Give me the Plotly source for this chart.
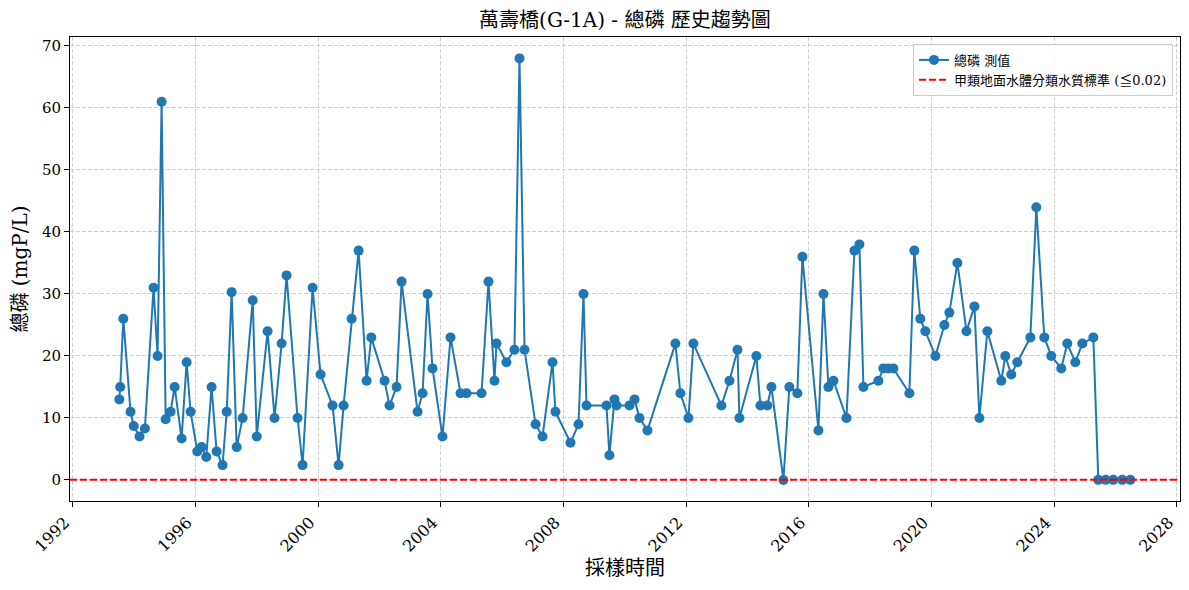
import plotly.graph_objects as go

# sampling dates
dates = [
    "1993-07-10", "1993-07-20", "1993-08-26", "1993-11-20", "1993-12-28",
    "1994-03-07", "1994-05-10", "1994-08-21", "1994-10-08", "1994-11-25",
    "1995-01-12", "1995-03-12", "1995-04-29", "1995-07-21", "1995-09-19",
    "1995-11-05", "1996-01-24", "1996-03-15", "1996-05-10", "1996-07-12",
    "1996-09-10", "1996-11-20", "1997-01-08", "1997-03-08", "1997-05-07",
    "1997-07-17", "1997-11-14", "1998-01-01", "1998-05-10", "1998-08-01",
    "1998-10-24", "1998-12-22", "1999-05-02", "1999-07-01", "1999-10-28",
    "2000-01-31", "2000-06-22", "2000-09-02", "2000-10-31", "2001-02-04",
    "2001-04-28", "2001-08-01", "2001-09-26", "2002-03-03", "2002-05-01",
    "2002-07-24", "2002-09-22", "2003-03-31", "2003-05-30", "2003-07-28",
    "2003-09-25", "2004-01-22", "2004-04-27", "2004-08-24", "2004-11-03",
    "2005-05-01", "2005-07-23", "2005-10-02", "2005-10-26", "2006-02-22",
    "2006-05-28", "2006-07-27", "2006-09-25", "2007-02-03", "2007-04-27",
    "2007-08-24", "2007-09-28", "2008-03-25", "2008-06-29", "2008-08-27",
    "2008-10-02", "2009-05-28", "2009-07-02", "2009-08-31", "2009-09-24",
    "2010-02-26", "2010-04-27", "2010-06-25", "2010-09-28", "2011-08-27",
    "2011-10-25", "2012-01-29", "2012-03-28", "2013-02-25", "2013-06-01",
    "2013-09-04", "2013-09-27", "2014-04-17", "2014-06-04", "2014-08-26",
    "2014-10-13", "2015-03-05", "2015-05-15", "2015-08-18", "2015-10-17",
    "2016-04-25", "2016-06-24", "2016-08-22", "2016-10-21", "2017-03-25",
    "2017-06-28", "2017-08-26", "2017-10-13", "2018-04-09", "2018-06-07",
    "2018-08-06", "2018-10-04", "2019-04-13", "2019-06-11", "2019-08-21",
    "2019-10-20", "2020-02-17", "2020-06-03", "2020-08-01", "2020-11-05",
    "2021-02-21", "2021-05-27", "2021-07-25", "2021-10-28", "2022-04-12",
    "2022-05-30", "2022-08-09", "2022-10-19", "2023-03-24", "2023-06-03",
    "2023-09-06", "2023-11-28", "2024-03-26", "2024-06-06", "2024-09-09",
    "2024-12-02", "2025-04-12", "2025-06-10", "2025-09-06", "2025-12-05",
    "2026-03-22", "2026-06-26",
]

# total phosphorus values
tp_values = [
    13, 15, 26, 11, 8.7,
    7.0, 8.3, 31, 20, 61,
    9.8, 11, 15, 6.7, 19,
    11, 4.6, 5.3, 3.7, 15,
    4.6, 2.4, 11, 30.3, 5.3,
    10, 29, 7, 24, 10,
    22, 33, 10, 2.4, 31,
    17, 12, 2.4, 12, 26,
    37, 16, 23, 16, 12,
    15, 32, 11, 14, 30,
    18, 7, 23, 14, 14,
    14, 32, 16, 22, 19,
    21, 68, 21, 9, 7,
    19, 11, 6, 9, 30,
    12, 12, 4, 13, 12,
    12, 13, 10, 8, 22,
    14, 10, 22, 12, 16,
    21, 10, 20, 12, 12,
    15, 0, 15, 14, 36,
    8, 30, 15, 16, 10,
    37, 38, 15, 16, 18,
    18, 18, 14, 37, 26,
    24, 20, 25, 27, 35,
    24, 28, 10, 24, 16,
    20, 17, 19, 23, 44,
    23, 20, 18, 22, 19,
    22, 23, 0.02, 0.02, 0.02,
    0.02, 0.02,
]

standard = 0.02
tick_years = ["1992", "1996", "2000", "2004", "2008", "2012", "2016", "2020", "2024", "2028"]

serif = "DejaVu Serif, Noto Sans CJK TC, serif"

fig = go.Figure()

fig.add_trace(go.Scatter(
    x=dates, y=tp_values,
    mode="lines+markers",
    name="總磷 測值",
    line=dict(color="#1f77b4", width=2),
    marker=dict(color="#1f77b4", size=10),
))

# horizontal standard line across the whole axis
fig.add_shape(
    type="line", xref="paper", x0=0, x1=1, yref="y", y0=standard, y1=standard,
    line=dict(color="red", width=2, dash="7px,3px"),
    showlegend=True, name="甲類地面水體分類水質標準 (≦0.02)",
)

# page body has an 8px margin, so the figure is sized 8px smaller
fig.update_layout(
    width=1181, height=582,
    margin=dict(l=62, r=9, t=29, b=89, autoexpand=False),
    paper_bgcolor="white", plot_bgcolor="white",
    font=dict(family=serif, color="black"),
    title=dict(text="萬壽橋(G-1A) - 總磷 歷史趨勢圖", x=0.5224, xanchor="center",
               y=0.979, yanchor="middle", font=dict(size=20)),
    legend=dict(x=0.9937, y=0.985, xanchor="right", yanchor="top",
                bgcolor="rgba(255,255,255,0.8)", bordercolor="#cccccc", borderwidth=1,
                font=dict(size=13), tracegroupgap=0),
    showlegend=True,
)

grid = dict(showgrid=True, gridcolor="#cfcfcf", griddash="4px,2px", gridwidth=1)

fig.update_xaxes(
    type="date", automargin=False,
    range=["1991-11-30", "2028-02-08"],
    tickmode="array", tickvals=[y + "-01-01" for y in tick_years], ticktext=tick_years,
    tickangle=-45, tickfont=dict(size=16), ticklabelshift=-8,
    ticks="outside", ticklen=5, tickcolor="black",
    showline=True, linecolor="black", linewidth=1, mirror=True,
    zeroline=False,
    title=dict(text="採樣時間", font=dict(size=20), standoff=6),
    **grid,
)

fig.update_yaxes(
    automargin=False,
    range=[-3.39, 71.45],
    tickvals=[0, 10, 20, 30, 40, 50, 60, 70], tickfont=dict(size=15),
    ticks="outside", ticklen=5, tickcolor="black",
    showline=True, linecolor="black", linewidth=1, mirror=True,
    zeroline=False,
    title=dict(text="總磷 (mgP/L)", font=dict(size=20), standoff=8),
    **grid,
)

fig.write_html("out.html")
